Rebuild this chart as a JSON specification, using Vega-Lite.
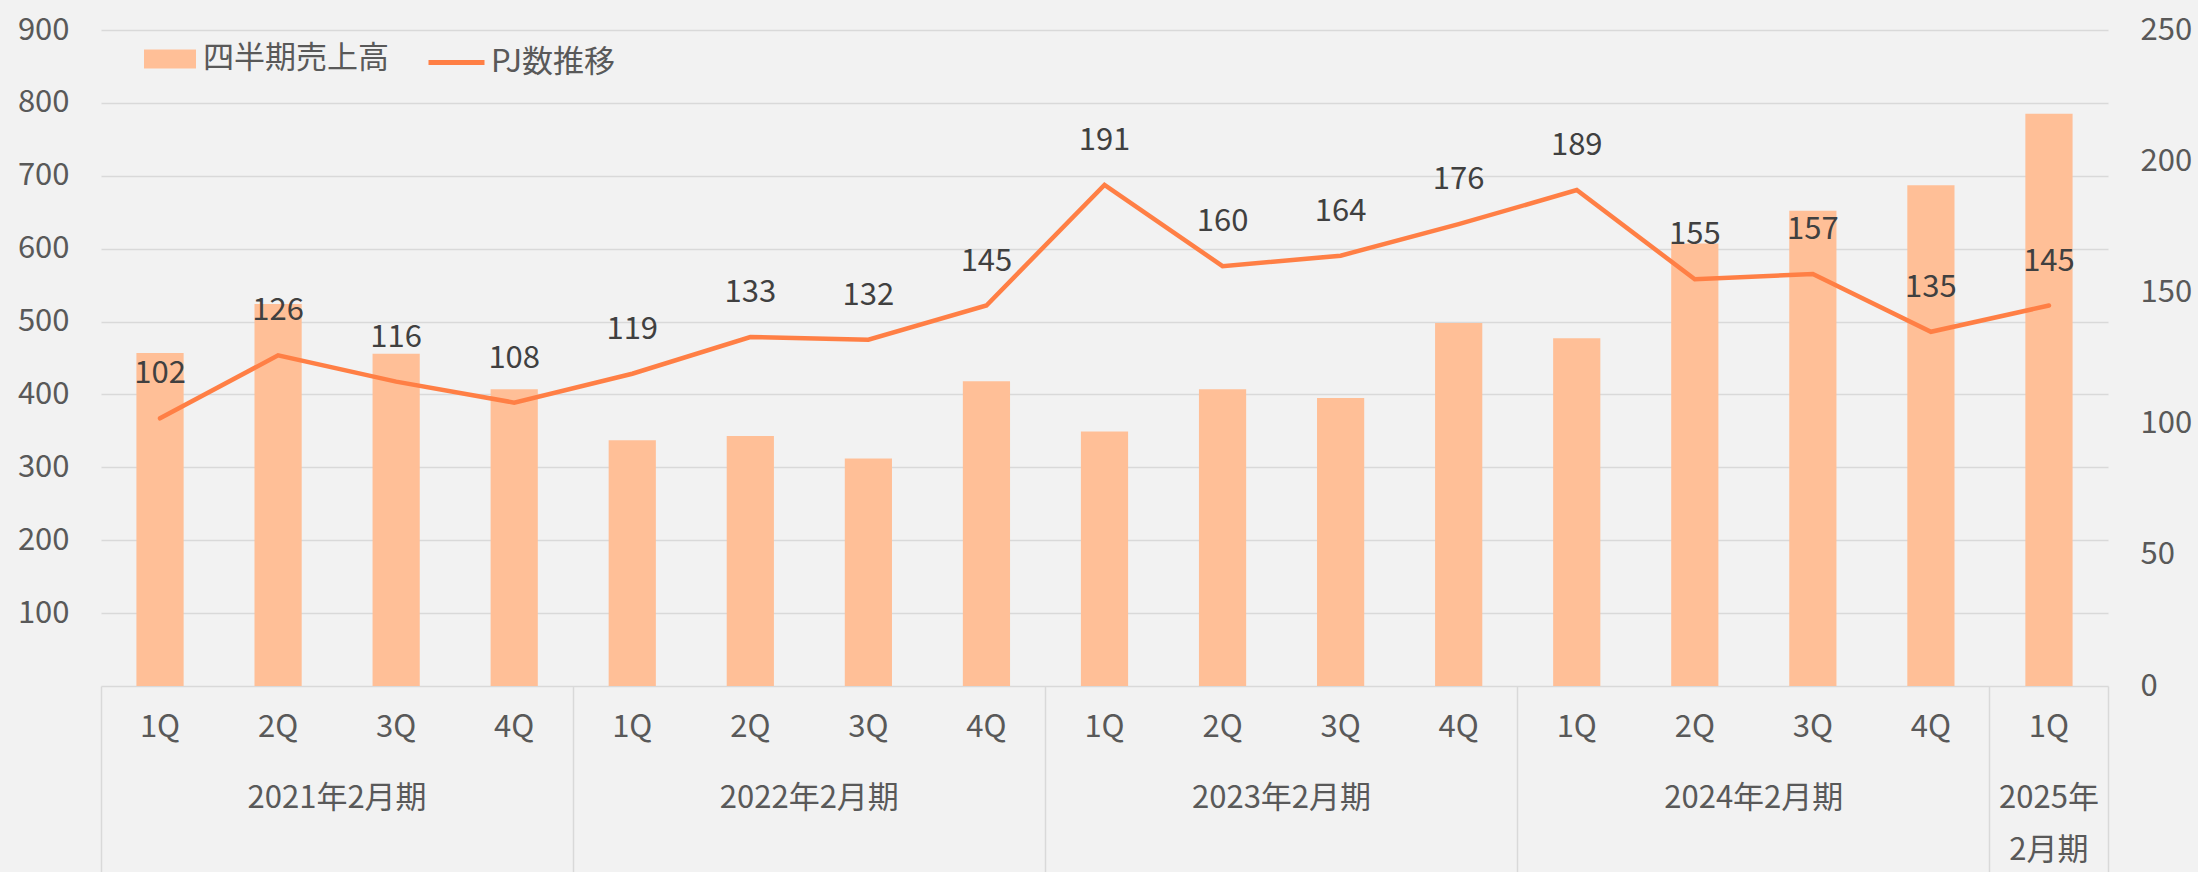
{
  "$schema": "https://vega.github.io/schema/vega-lite/v6.json",
  "width": 2007,
  "height": 656,
  "autosize": {"type": "none"},
  "padding": {"left": 101, "top": 30, "right": 90, "bottom": 186},
  "background": "#F2F2F2",
  "config": {
    "font": "Noto Sans CJK JP",
    "view": {"stroke": null},
    "axis": {"labelFont": "Noto Sans CJK JP", "labelFontSize": 31, "labelColor": "#595959", "title": null},
    "legend": {"labelFont": "Noto Sans CJK JP", "labelFontSize": 31, "labelColor": "#595959", "title": null, "padding": 0, "labelLimit": 600}
  },
  "data": {
    "values": [
      {"key": "2021-1Q", "sales": 457, "pj": 102},
      {"key": "2021-2Q", "sales": 524, "pj": 126},
      {"key": "2021-3Q", "sales": 456, "pj": 116},
      {"key": "2021-4Q", "sales": 407, "pj": 108},
      {"key": "2022-1Q", "sales": 337, "pj": 119},
      {"key": "2022-2Q", "sales": 343, "pj": 133},
      {"key": "2022-3Q", "sales": 312, "pj": 132},
      {"key": "2022-4Q", "sales": 418, "pj": 145},
      {"key": "2023-1Q", "sales": 349, "pj": 191},
      {"key": "2023-2Q", "sales": 407, "pj": 160},
      {"key": "2023-3Q", "sales": 395, "pj": 164},
      {"key": "2023-4Q", "sales": 498, "pj": 176},
      {"key": "2024-1Q", "sales": 477, "pj": 189},
      {"key": "2024-2Q", "sales": 607, "pj": 155},
      {"key": "2024-3Q", "sales": 652, "pj": 157},
      {"key": "2024-4Q", "sales": 687, "pj": 135},
      {"key": "2025-1Q", "sales": 785, "pj": 145}
    ]
  },
  "layer": [
    {
      "mark": {"type": "bar", "width": 47.2},
      "encoding": {
        "x": {
          "field": "key", "type": "nominal", "sort": null,
          "scale": {"paddingInner": 0, "paddingOuter": 0},
          "axis": {
            "orient": "bottom",
            "labelExpr": "slice(datum.value, 5)",
            "labelAngle": 0,
            "labelBaseline": "middle",
            "labelPadding": -145,
            "domain": true, "domainColor": "#D9D9D9", "domainWidth": 1.5,
            "ticks": true, "bandPosition": 0, "tickSize": 186, "tickWidth": 1.5,
            "tickColor": {"condition": {"test": "isString(datum.value) && slice(datum.value, 5) == '1Q'", "value": "#D9D9D9"}, "value": "transparent"},
            "grid": false
          }
        },
        "y": {
          "field": "sales", "type": "quantitative",
          "scale": {"domain": [0, 900], "nice": false},
          "axis": {
            "orient": "left", "values": [100, 200, 300, 400, 500, 600, 700, 800, 900],
            "domain": false, "ticks": false, "labelPadding": 32,
            "grid": true, "gridColor": "#D9D9D9", "gridWidth": 1.5
          }
        },
        "fill": {
          "datum": "四半期売上高",
          "scale": {"range": ["#FFBF97"]},
          "legend": {
            "orient": "none", "legendX": 42, "legendY": 2, "direction": "horizontal",
            "symbolType": "M-1,-0.365H1V0.365H-1Z", "symbolSize": 2704, "labelOffset": 6
          }
        }
      }
    },
    {
      "mark": {"type": "line", "strokeWidth": 4.5, "strokeCap": "round"},
      "encoding": {
        "x": {
          "field": "key", "type": "nominal", "sort": null,
          "axis": {
            "orient": "bottom",
            "values": ["2021-2Q", "2022-2Q", "2023-2Q", "2024-2Q", "2025-1Q"],
            "labelExpr": "datum.value == '2025-1Q' ? ['2025年', '2月期'] : slice(datum.value, 0, 4) + '年2月期'",
            "labelAngle": 0,
            "labelBaseline": "top",
            "labelPadding": -89,
            "labelLineHeight": 52,
            "labelOffset": {"condition": {"test": "datum.value == '2025-1Q'", "value": 0}, "value": 59},
            "ticks": true, "bandPosition": 1, "tickSize": 186, "tickWidth": 1.5,
            "tickColor": {"condition": {"test": "datum.value == '2025-1Q'", "value": "#D9D9D9"}, "value": "transparent"},
            "domain": false, "grid": false
          }
        },
        "y": {
          "field": "pj", "type": "quantitative",
          "scale": {"domain": [0, 250], "nice": false},
          "axis": {
            "orient": "right", "values": [0, 50, 100, 150, 200, 250],
            "domain": false, "ticks": false, "grid": false, "labelPadding": 32
          }
        },
        "stroke": {
          "datum": "PJ数推移",
          "scale": {"range": ["#FF7F45"]},
          "legend": {
            "orient": "none", "legendX": 325, "legendY": 2, "direction": "horizontal",
            "symbolType": "stroke", "symbolSize": 3136, "symbolStrokeWidth": 5, "labelOffset": 4
          }
        }
      }
    },
    {
      "mark": {"type": "text", "fontSize": 31, "color": "#404040", "dy": -35, "baseline": "alphabetic", "align": "center"},
      "encoding": {
        "x": {"field": "key", "type": "nominal", "sort": null, "axis": null},
        "y": {"field": "pj", "type": "quantitative", "scale": {"domain": [0, 250], "nice": false}, "axis": null},
        "text": {"field": "pj", "type": "quantitative"}
      }
    }
  ],
  "resolve": {"scale": {"y": "independent"}, "axis": {"x": "independent", "y": "independent"}}
}
